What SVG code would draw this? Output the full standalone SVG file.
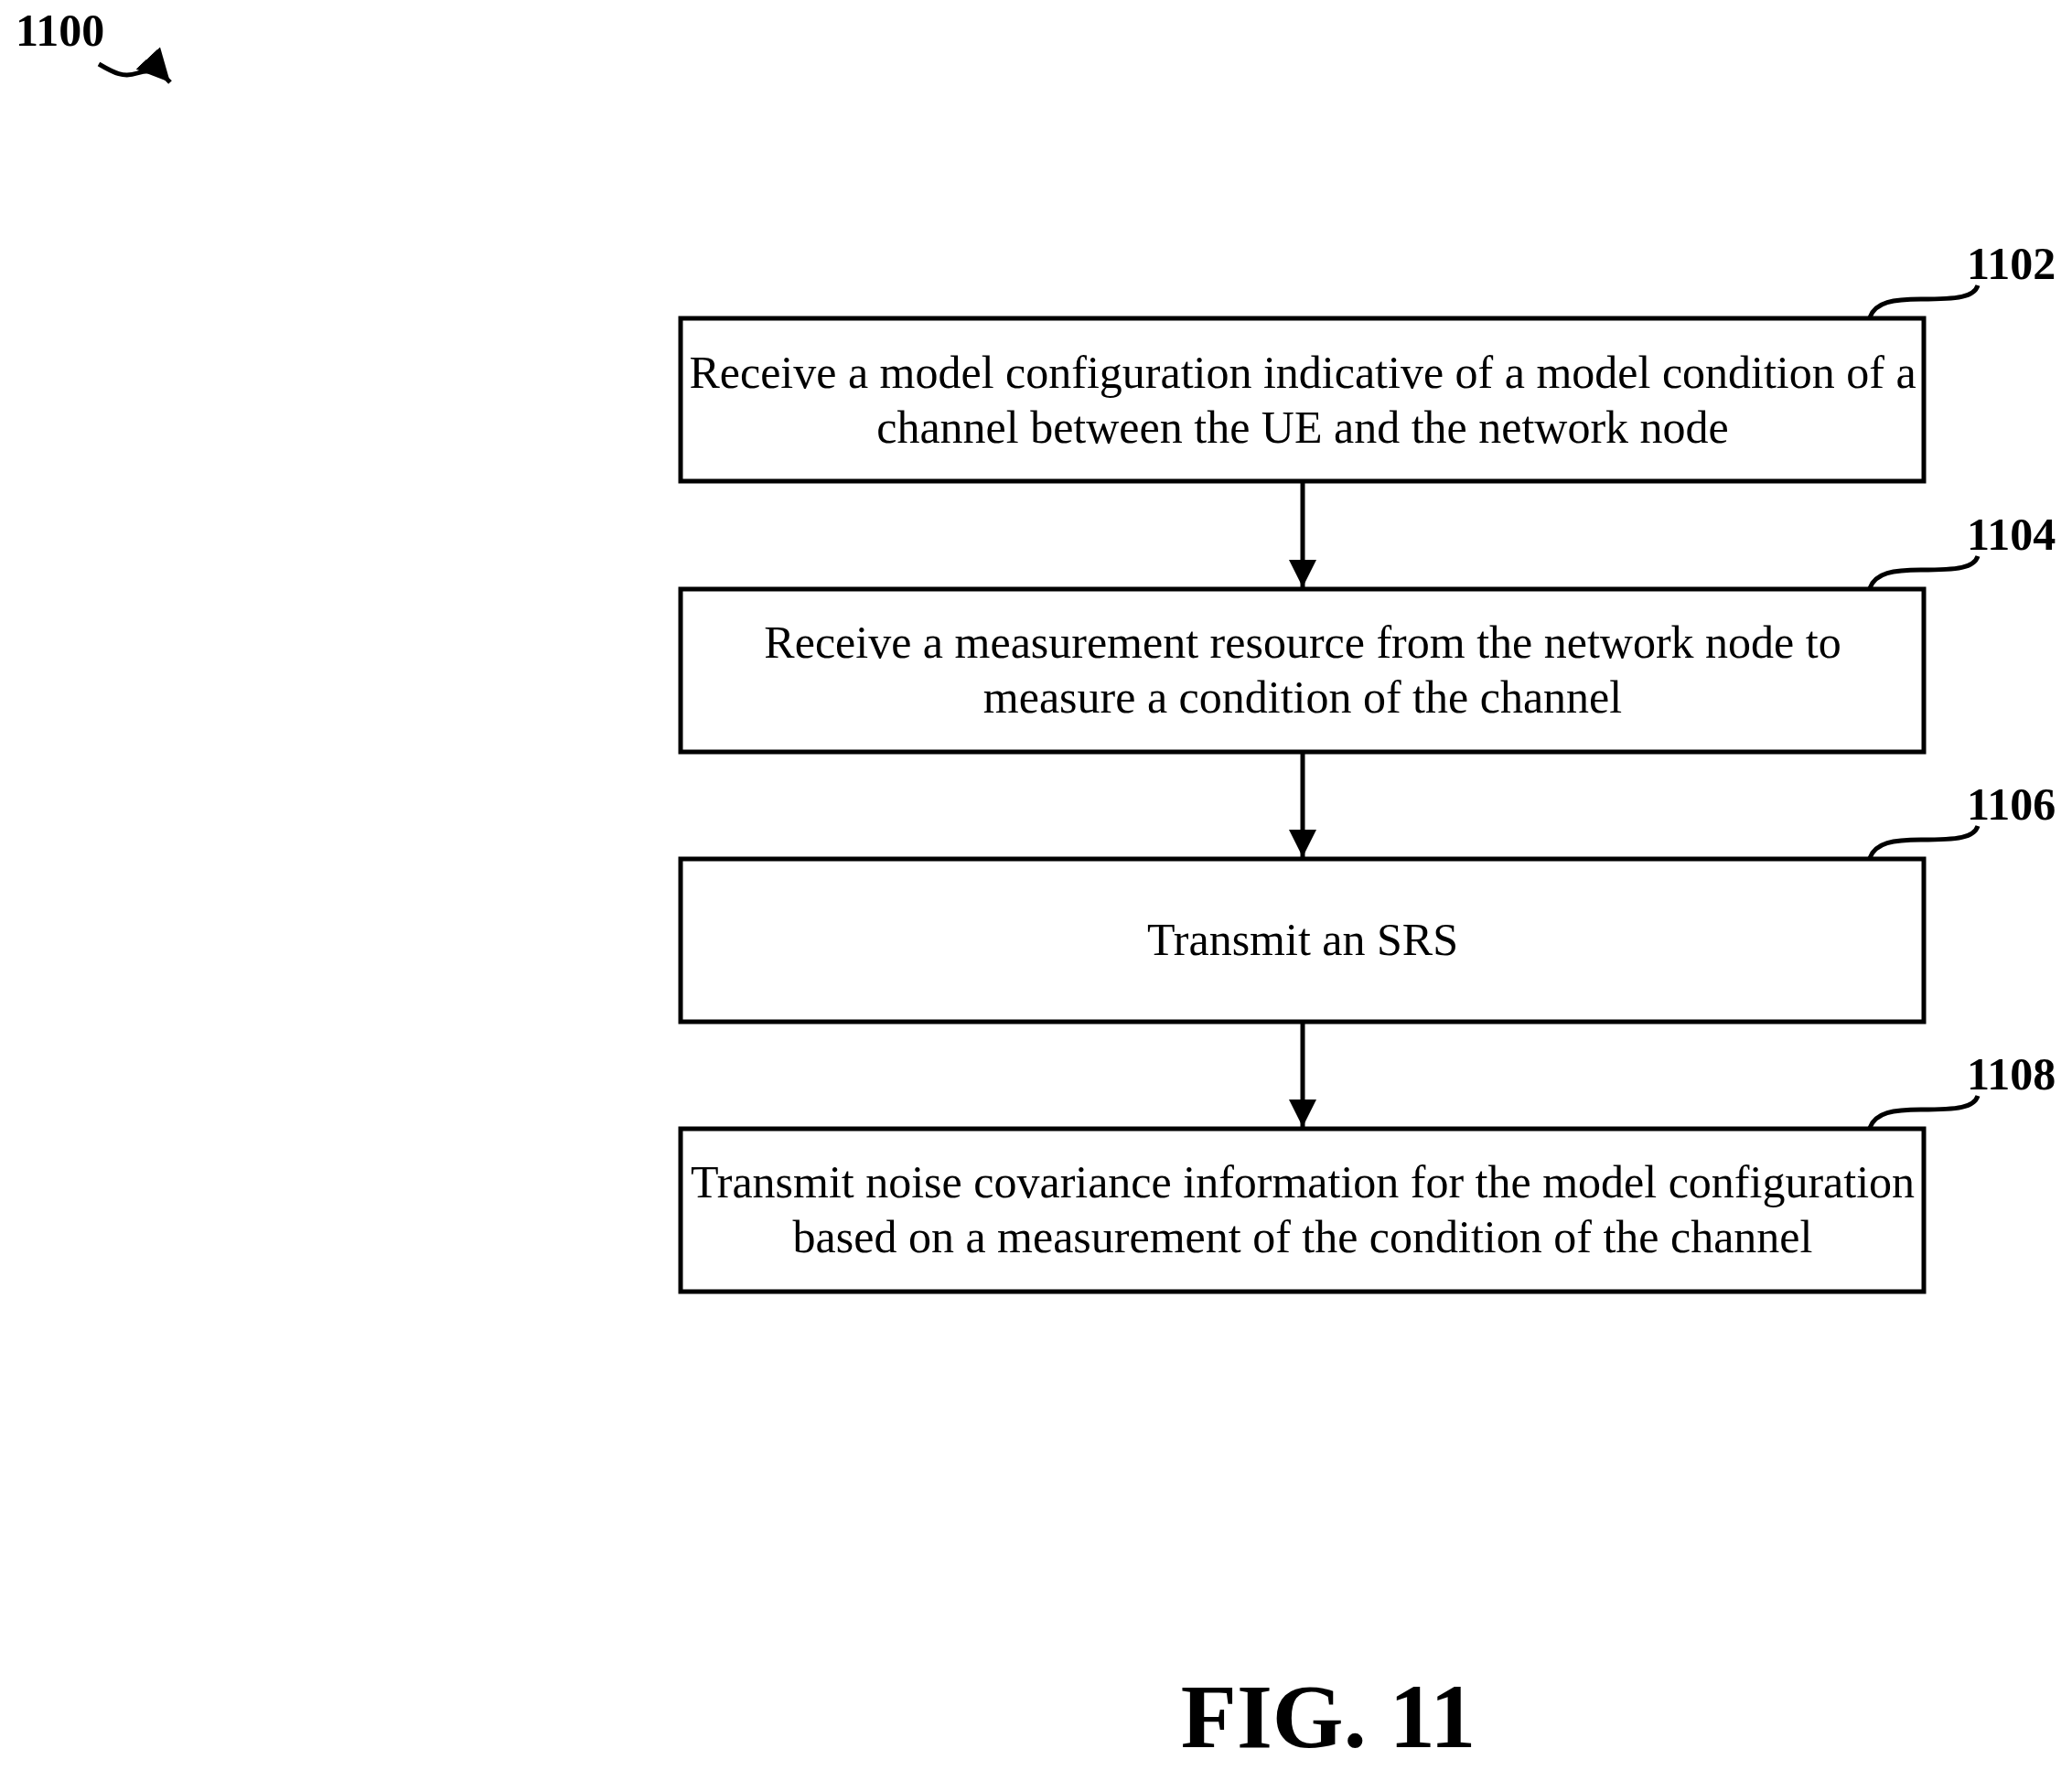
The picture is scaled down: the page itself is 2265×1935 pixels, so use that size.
<svg xmlns="http://www.w3.org/2000/svg" width="2265" height="1935" viewBox="0 0 2265 1935">
<style>
.box{fill:#fff;stroke:#000;stroke-width:5}
.t{font-family:"Liberation Serif",serif;font-size:50px;text-anchor:middle;fill:#000}
.lbl{font-family:"Liberation Serif",serif;font-size:50px;font-weight:bold;fill:#000}
.sq{fill:none;stroke:#000;stroke-width:5}
.c{stroke:#000;stroke-width:5;fill:none}
</style>
<defs>
<marker id="a2" viewBox="0 0 30 30" refX="30" refY="15" markerWidth="30" markerHeight="30" orient="auto" markerUnits="userSpaceOnUse"><path d="M0,0 L30,15 L0,30 z"/></marker>
<marker id="a3" viewBox="0 0 36 36" refX="36" refY="18" markerWidth="36" markerHeight="36" orient="auto" markerUnits="userSpaceOnUse"><path d="M0,0 L36,18 L0,36 z"/></marker></defs>
<rect width="2265" height="1935" fill="#fff"/>
<g id="label1100"><text class="lbl" x="17" y="50">1100</text>
<path class="sq" d="M108,70 C125,80 135,85 150,80 C165,75 175,78 186,90" marker-end="url(#a3)"/></g>
<g id="connectors">
<line class="c" x1="1424" y1="528" x2="1424" y2="642" marker-end="url(#a2)"/>
<line class="c" x1="1424" y1="823" x2="1424" y2="937" marker-end="url(#a2)"/>
<line class="c" x1="1424" y1="1118" x2="1424" y2="1232" marker-end="url(#a2)"/>
</g>
<g id="n1102"><rect class="box" x="744" y="348" width="1359" height="178"/>
<text class="t" x="1424" y="424">Receive a model configuration indicative of a model condition of a</text>
<text class="t" x="1424" y="484">channel between the UE and the network node</text>
<path class="sq" d="M2044,347 C2050,330 2070,327 2100,327 C2140,327 2158,325 2162,312"/>
<text class="lbl" x="2150" y="305">1102</text></g>
<g id="n1104"><rect class="box" x="744" y="644" width="1359" height="178"/>
<text class="t" x="1424" y="719">Receive a measurement resource from the network node to</text>
<text class="t" x="1424" y="779">measure a condition of the channel</text>
<path class="sq" d="M2044,643 C2050,626 2070,623 2100,623 C2140,623 2158,621 2162,608"/>
<text class="lbl" x="2150" y="601">1104</text></g>
<g id="n1106"><rect class="box" x="744" y="939" width="1359" height="178"/>
<text class="t" x="1424" y="1044">Transmit an SRS</text>
<path class="sq" d="M2044,938 C2050,921 2070,918 2100,918 C2140,918 2158,916 2162,903"/>
<text class="lbl" x="2150" y="896">1106</text></g>
<g id="n1108"><rect class="box" x="744" y="1234" width="1359" height="178"/>
<text class="t" x="1424" y="1309">Transmit noise covariance information for the model configuration</text>
<text class="t" x="1424" y="1369">based on a measurement of the condition of the channel</text>
<path class="sq" d="M2044,1233 C2050,1216 2070,1213 2100,1213 C2140,1213 2158,1211 2162,1198"/>
<text class="lbl" x="2150" y="1191">1108</text></g>
<text x="1452" y="1910" font-family="Liberation Serif,serif" font-size="100" font-weight="bold" text-anchor="middle">FIG. 11</text>
</svg>
